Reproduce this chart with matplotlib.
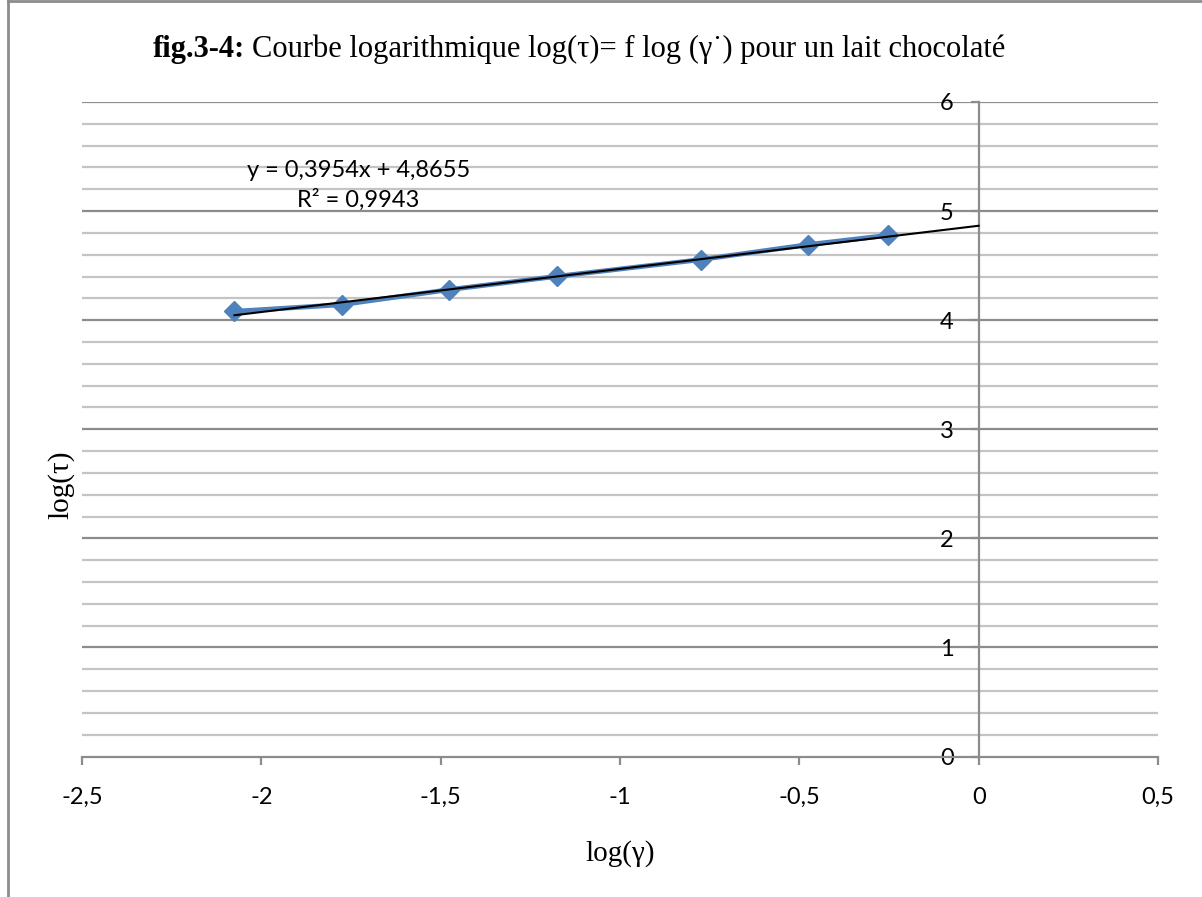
import matplotlib
matplotlib.use("Agg")
import matplotlib.pyplot as plt
from matplotlib.lines import Line2D
import numpy as np

# données
log_gamma = [-2.075, -1.776, -1.476, -1.175, -0.775, -0.475, -0.252]
log_tau = [4.081, 4.142, 4.280, 4.402, 4.555, 4.693, 4.778]
slope = 0.3954
intercept = 4.8655
r2 = 0.9943
x_ticks = [-2.5, -2, -1.5, -1, -0.5, 0, 0.5]
y_ticks = [0, 1, 2, 3, 4, 5, 6]

tick_font = "Lato"
serif = "Liberation Serif"

fig = plt.figure(figsize=(12.02, 8.97), dpi=100)
ax = fig.add_axes([0.0682, 0.1566, 0.8952, 0.7297])

# grille
for v in np.arange(0.2, 6.01, 0.2):
    major = abs(v - round(v)) < 1e-6
    ax.axhline(v, color="#8c8c8c" if major else "#c4c4c4", lw=1.6, zorder=0)

# courbe et tendance
ax.plot(log_gamma, log_tau, color="#4f81bd", lw=3.5, marker="D", ms=10,
        zorder=3)
tx = np.array([log_gamma[0], 0])
ax.plot(tx, slope * tx + intercept, color="black", lw=1.5, zorder=4)

ax.set_xlim(-2.5, 0.5)
ax.set_ylim(0, 6)
ax.spines["left"].set_position(("data", 0))
for s in ["top", "right"]:
    ax.spines[s].set_visible(False)
for s in ["left", "bottom"]:
    ax.spines[s].set_color("#8c8c8c")
    ax.spines[s].set_linewidth(1.6)

ax.set_xticks(x_ticks)
ax.set_xticklabels([str(t).replace(".", ",") for t in x_ticks],
                   fontfamily=tick_font, fontsize=17)
ax.set_yticks(y_ticks)
ax.set_yticklabels([str(t) for t in y_ticks], fontfamily=tick_font,
                   fontsize=17)
ax.tick_params(axis="x", length=6, width=1.6, color="#8c8c8c", pad=16)
ax.tick_params(axis="y", length=6, width=1.6, color="#8c8c8c", pad=12)
for lab in ax.get_yticklabels():
    lab.set_zorder(5)

ax.text(-1.73, 5.37, "y = 0,3954x + 4,8655", fontfamily=tick_font,
        fontsize=17, ha="center", va="center")
ax.text(-1.73, 5.10, "R² = 0,9943", fontfamily=tick_font, fontsize=17,
        ha="center", va="center")

# titre : partie grasse puis le reste
t1 = fig.text(153 / 1202, 1 - 57 / 897, "fig.3-4:", fontfamily=serif,
              fontweight="bold", fontsize=22, ha="left", va="baseline")
fig.canvas.draw()
bb = t1.get_window_extent()
fig.text((bb.x1 + 7) / 1202, 1 - 57 / 897,
         "Courbe logarithmique log(τ)= f log (γ˙) pour un lait chocolaté",
         fontfamily=serif, fontsize=22, ha="left", va="baseline")

fig.text(61 / 1202, 1 - 485 / 897, "log(τ)", fontfamily=serif, fontsize=21,
         rotation=90, ha="center", va="center")
fig.text(620 / 1202, 1 - 854 / 897, "log(γ)", fontfamily=serif, fontsize=21,
         ha="center", va="center")

# cadre partiel
fig.add_artist(Line2D([0.007, 0.007], [0, 0.999], color="#8c8c8c", lw=2))
fig.add_artist(Line2D([0.007, 1], [0.999, 0.999], color="#8c8c8c", lw=2))

fig.savefig("out.png", dpi=100)
